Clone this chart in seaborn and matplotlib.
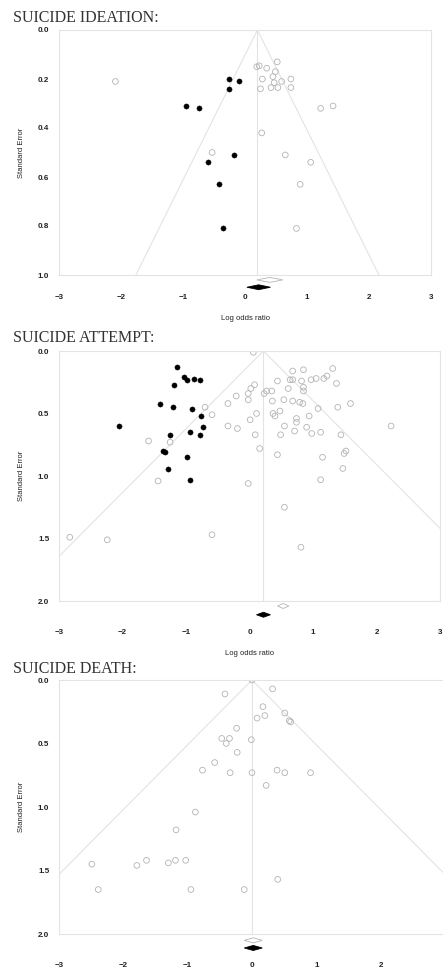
import numpy as np
import matplotlib
matplotlib.use("Agg")
import matplotlib.pyplot as plt
from matplotlib.ticker import FormatStrFormatter
import seaborn as sns

# ---- data (log odds ratio, standard error) ----
titles = ["SUICIDE IDEATION:", "SUICIDE ATTEMPT:", "SUICIDE DEATH:"]
se_max = [1.0, 2.0, 2.0]
centers = [0.2, 0.22, 0.0]
y_ticks = [[0.0, 0.2, 0.4, 0.6, 0.8, 1.0], [0.0, 0.5, 1.0, 1.5, 2.0], [0.0, 0.5, 1.0, 1.5, 2.0]]
# last panel is cut at the right edge in the original, so its "3" is not shown
x_ticks = [[-3, -2, -1, 0, 1, 2, 3], [-3, -2, -1, 0, 1, 2, 3], [-3, -2, -1, 0, 1, 2]]
x_labels = ["Log odds ratio", "Log odds ratio", ""]

ideation_open_x = [-2.09, 0.19, 0.23, 0.35, 0.52, 0.49, 0.28, 0.45, 0.47, 0.59, 0.74, 0.25,
                   0.42, 0.53, 0.74, 1.22, 1.42, 0.27, -0.53, 0.65, 1.06, 0.89, 0.83]
ideation_open_se = [0.21, 0.15, 0.146, 0.156, 0.13, 0.17, 0.20, 0.19, 0.215, 0.21, 0.20, 0.24,
                    0.235, 0.235, 0.235, 0.32, 0.31, 0.42, 0.50, 0.51, 0.54, 0.63, 0.81]
ideation_fill_x = [-0.26, -0.10, -0.26, -0.95, -0.74, -0.18, -0.59, -0.42, -0.36]
ideation_fill_se = [0.20, 0.21, 0.24, 0.31, 0.32, 0.51, 0.54, 0.63, 0.81]

attempt_open_x = [0.06, 0.68, 0.85, 1.31, 0.44, 0.64, 0.68, 0.82, 0.97, 1.05, 1.17, 1.22, 1.37,
                  0.02, 0.08, 0.23, 0.27, 0.35, 0.61, 0.85, 0.85, -0.21, -0.02, -0.02, -0.34,
                  0.36, 0.54, 0.68, 0.79, 0.84, 1.08, 1.39, 1.59, -0.70, -0.59, 0.11, 0.01,
                  0.37, 0.40, 0.48, 0.74, 0.94, 0.74, -0.34, -0.19, 0.55, 0.71, 0.90, 0.98,
                  1.12, 1.44, 0.49, 0.09, 2.23, -1.59, -1.25, 0.16, 0.44, 1.15, 1.52, 1.49,
                  1.47, -1.44, -0.02, 1.12, 0.55, -2.83, -2.24, -0.59, 0.81]
attempt_open_se = [0.01, 0.16, 0.15, 0.14, 0.24, 0.23, 0.23, 0.24, 0.23, 0.22, 0.22, 0.20, 0.26,
                   0.30, 0.27, 0.34, 0.32, 0.32, 0.30, 0.29, 0.32, 0.36, 0.34, 0.39, 0.42,
                   0.40, 0.39, 0.40, 0.41, 0.42, 0.46, 0.45, 0.42, 0.45, 0.51, 0.50, 0.55,
                   0.50, 0.52, 0.48, 0.54, 0.52, 0.57, 0.60, 0.62, 0.60, 0.64, 0.61, 0.66,
                   0.65, 0.67, 0.67, 0.67, 0.60, 0.72, 0.73, 0.78, 0.83, 0.85, 0.80, 0.82,
                   0.94, 1.04, 1.06, 1.03, 1.25, 1.49, 1.51, 1.47, 1.57]
attempt_fill_x = [-1.14, -1.03, -0.99, -0.87, -0.78, -1.19, -1.41, -1.21, -0.90, -0.77,
                  -2.06, -0.73, -0.94, -0.78, -1.25, -1.36, -1.33, -0.98, -1.29, -0.94]
attempt_fill_se = [0.13, 0.21, 0.23, 0.22, 0.23, 0.27, 0.42, 0.45, 0.46, 0.52,
                   0.60, 0.61, 0.65, 0.67, 0.67, 0.80, 0.81, 0.85, 0.94, 1.03]

death_open_x = [0.0, 0.32, -0.42, 0.17, 0.20, 0.08, 0.51, 0.58, 0.60, -0.24, -0.47, -0.35,
                -0.40, -0.01, -0.23, -0.58, -0.77, -0.34, 0.0, 0.39, 0.51, 0.91, 0.22,
                -0.88, -1.18, -2.49, -1.79, -1.64, -1.30, -1.19, -1.03, -2.39, -0.95, -0.12, 0.40]
death_open_se = [0.0, 0.07, 0.11, 0.21, 0.28, 0.30, 0.26, 0.32, 0.33, 0.38, 0.46, 0.46,
                 0.50, 0.47, 0.57, 0.65, 0.71, 0.73, 0.73, 0.71, 0.73, 0.73, 0.83,
                 1.04, 1.18, 1.45, 1.46, 1.42, 1.44, 1.42, 1.42, 1.65, 1.65, 1.65, 1.57]
death_fill_x = []
death_fill_se = []

# summary diamonds below the axis: (centre, half width, y) observed / adjusted
open_diamonds = [(0.40, 0.21, 1.02), (0.53, 0.09, 2.04), (0.02, 0.14, 2.05)]
fill_diamonds = [(0.22, 0.19, 1.05), (0.22, 0.11, 2.11), (0.02, 0.14, 2.11)]

panels = [(ideation_open_x, ideation_open_se, ideation_fill_x, ideation_fill_se),
          (attempt_open_x, attempt_open_se, attempt_fill_x, attempt_fill_se),
          (death_open_x, death_open_se, death_fill_x, death_fill_se)]

sns.set_style("white")
plt.rcParams["font.family"] = ["Liberation Sans", "DejaVu Sans"]

W, H = 443, 971
fig = plt.figure(figsize=(W / 100, H / 100), dpi=100)

# axes boxes in pixels: left, top, right, bottom
boxes = [(59, 30, 431, 275), (59, 351, 440, 601), (59, 680, 445, 934)]
title_y = [22.5, 342, 672.5]
x_pad = [12, 18, 18]
light = "#e3e3e3"

for i, (ox, ose, fx, fse) in enumerate(panels):
    l, t, r, b = boxes[i]
    ax = fig.add_axes([l / W, 1 - b / H, (r - l) / W, (b - t) / H])
    ax.set_xlim(-3, 3)
    ax.set_ylim(se_max[i], 0)

    c = centers[i]
    se_line = np.array([0, se_max[i]])
    ax.plot(c - 1.96 * se_line, se_line, color=light, lw=0.8, zorder=1)
    ax.plot(c + 1.96 * se_line, se_line, color=light, lw=0.8, zorder=1)
    ax.plot([c, c], se_line, color=light, lw=0.8, zorder=1)

    sns.scatterplot(x=ox, y=ose, ax=ax, marker="o", s=17, facecolor="none",
                    edgecolor="#b3b3b3", linewidth=0.6, zorder=2)
    if len(fx):
        sns.scatterplot(x=fx, y=fse, ax=ax, marker="o", s=14, color="black",
                        edgecolor="black", linewidth=0.3, zorder=3)

    hh = 0.01 * se_max[i]
    for (dc, hw, dy), fc, ec in [(open_diamonds[i], "white", "#b5b5b5"),
                                 (fill_diamonds[i], "black", "black")]:
        ax.fill([dc - hw, dc, dc + hw, dc], [dy, dy - hh, dy, dy + hh],
                facecolor=fc, edgecolor=ec, lw=0.6, clip_on=False, zorder=4)

    ax.set_xticks(x_ticks[i])
    ax.set_yticks(y_ticks[i])
    ax.yaxis.set_major_formatter(FormatStrFormatter("%.1f"))
    ax.tick_params(axis="x", length=2, color=light, pad=x_pad[i],
                   labelsize=5.8, labelcolor="#222222")
    ax.tick_params(axis="y", length=0, pad=7, labelsize=5.8, labelcolor="#222222")
    for lab in ax.get_xticklabels() + ax.get_yticklabels():
        lab.set_fontweight("bold")
    for sp in ax.spines.values():
        sp.set_color(light)
        sp.set_linewidth(0.8)

    ax.set_ylabel("Standard Error", fontsize=5.5, labelpad=9, color="#222222")
    if x_labels[i]:
        ax.set_xlabel(x_labels[i], fontsize=5.5, labelpad=10, color="#222222")

    fig.text(13 / W, 1 - title_y[i] / H, titles[i], family="Liberation Serif",
             fontsize=11.5, color="#333333", va="baseline", ha="left")

fig.savefig("out.png", dpi=100)
